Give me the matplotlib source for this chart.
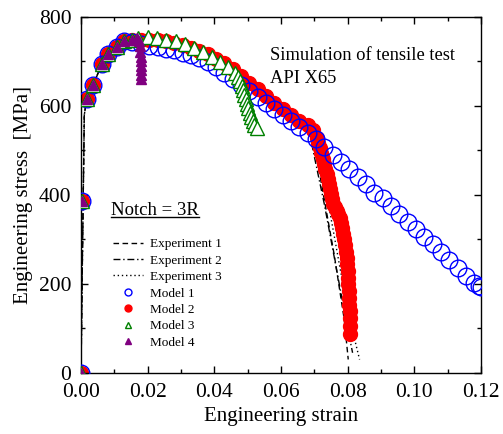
import numpy as np
import matplotlib
matplotlib.use('Agg')
import matplotlib.pyplot as plt
from matplotlib.lines import Line2D

plt.rcParams['font.family'] = ['Liberation Serif', 'DejaVu Serif']

# shared elastic / hardening part (all models start the same)
pre_strain = [0.0, 0.0003, 0.0017, 0.0037, 0.0062, 0.0082, 0.0107, 0.0130, 0.0154]
pre_stress = [0, 386, 615, 647, 694, 716, 733, 745, 748]

# Model 1 - blue open circles
m1_strain = pre_strain + [0.0180, 0.0205, 0.0230, 0.0255, 0.0280, 0.0305, 0.0330, 0.0355,
                          0.0380, 0.0405, 0.0430, 0.0455, 0.0480, 0.0505, 0.0530, 0.0555,
                          0.0580, 0.0605, 0.0630, 0.0655, 0.0680, 0.0705, 0.0730, 0.0755,
                          0.0780, 0.0805, 0.0830, 0.0855, 0.0880, 0.0905, 0.0930, 0.0955,
                          0.0980, 0.1005, 0.1030, 0.1055, 0.1080, 0.1105, 0.1130, 0.1155,
                          0.1180, 0.1195, 0.1200]
m1_stress = pre_stress[:-1] + [744, 739, 735, 732, 729, 725, 720, 714, 707,
                               699, 688, 675, 661, 648, 634, 621, 607,
                               593, 580, 566, 552, 538, 525, 508, 490,
                               474, 458, 441, 424, 405, 392, 376, 358,
                               340, 323, 306, 290, 272, 254, 236, 218,
                               203, 195, 193]

# Model 2 - red filled circles
m2_strain = pre_strain + [0.0180, 0.0205, 0.0230, 0.0255, 0.0280, 0.0305, 0.0330, 0.0355,
                          0.0380, 0.0405, 0.0430, 0.0455, 0.0480, 0.0505, 0.0530, 0.0555,
                          0.0580, 0.0605, 0.0630, 0.0655, 0.0680, 0.0695, 0.0708, 0.0712,
                          0.0716, 0.0720, 0.0725, 0.0729, 0.0733, 0.0737, 0.0741, 0.0744,
                          0.0747, 0.0750, 0.0754, 0.0757, 0.0762, 0.0767, 0.0772, 0.0777,
                          0.0780, 0.0783, 0.0786, 0.0789, 0.0792, 0.0795, 0.0797, 0.0799,
                          0.0800, 0.0801, 0.0802, 0.0803, 0.0804, 0.0805, 0.0806, 0.0806,
                          0.0807, 0.0807]
m2_stress = pre_stress + [749, 749, 748, 746, 742, 737, 731, 724,
                          716, 706, 696, 684, 668, 652, 637, 622,
                          607, 592, 579, 566, 556, 545, 528, 516,
                          505, 493, 480, 469, 458, 446, 435, 425,
                          414, 402, 390, 380, 372, 364, 357, 349,
                          337, 325, 313, 300, 287, 272, 258, 244,
                          229, 214, 200, 184, 168, 153, 138, 123,
                          105, 88]

# Model 3 - green open triangles
m3_strain = pre_strain + [0.0172, 0.0200, 0.0228, 0.0256, 0.0284, 0.0312, 0.0340, 0.0366,
                          0.0392, 0.0417, 0.0442, 0.0462, 0.0472, 0.0478, 0.0483, 0.0487,
                          0.0490, 0.0494, 0.0498, 0.0502, 0.0506, 0.0510, 0.0515, 0.0520,
                          0.0527]
m3_stress = pre_stress + [753, 754, 752, 749, 745, 739, 731, 721,
                          710, 699, 687, 675, 665, 655, 645, 635,
                          625, 615, 605, 595, 585, 575, 566, 558,
                          550]

# Model 4 - purple filled triangles
m4_strain = pre_strain + [0.0168, 0.0174, 0.0176, 0.0178, 0.0179, 0.0180, 0.0180,
                          0.0181, 0.0181, 0.0181]
m4_stress = pre_stress + [752, 745, 735, 722, 711, 700, 690, 680, 670, 660]

# experiments (black lines)
exp_pre_strain = [0.0, 0.0005, 0.0010, 0.0017, 0.0037, 0.0062, 0.0107, 0.0154, 0.0200,
                  0.0300, 0.0400, 0.0500, 0.0600]
exp_pre_stress = [0, 300, 580, 615, 647, 694, 733, 747, 749, 738, 708, 655, 595]
e1_strain = exp_pre_strain + [0.0690, 0.0700, 0.0730, 0.0760, 0.0790, 0.0802]
e1_stress = exp_pre_stress + [540, 515, 390, 265, 120, 30]
e2_strain = exp_pre_strain + [0.0688, 0.0695, 0.0730, 0.0760, 0.0790, 0.0815]
e2_stress = exp_pre_stress + [540, 505, 380, 260, 140, 45]
e3_strain = exp_pre_strain + [0.0700, 0.0710, 0.0745, 0.0775, 0.0805, 0.0836]
e3_stress = exp_pre_stress + [535, 505, 370, 245, 125, 30]

fig = plt.figure(figsize=(5.03, 4.34), dpi=100)
ax = fig.add_axes([0.161, 0.141, 0.795, 0.820])

ax.plot(e1_strain, e1_stress, color='black', lw=1.0, ls=(0, (4, 2.5)), zorder=1)
ax.plot(e2_strain, e2_stress, color='black', lw=1.0, ls=(0, (5, 2, 1, 2)), zorder=1)
ax.plot(e3_strain, e3_stress, color='black', lw=1.0, ls=(0, (1, 2)), zorder=1)

ax.plot(m2_strain, m2_stress, 'o', ms=10, mfc='red', mec='red', mew=1, zorder=2)
ax.plot(m1_strain, m1_stress, 'o', ms=12, mfc='none', mec='blue', mew=1, zorder=3)
ax.plot(m3_strain, m3_stress, '^', ms=9.5, mfc='white', mec='green', mew=1, zorder=4)
ax.plot(m4_strain, m4_stress, '^', ms=7, mfc='purple', mec='purple', mew=1, zorder=5)

ax.set_xlim(0, 0.12)
ax.set_ylim(0, 800)
ax.set_xticks(np.arange(0, 0.121, 0.02))
ax.set_xticks(np.arange(0, 0.121, 0.01), minor=True)
ax.set_yticks(np.arange(0, 801, 200))
ax.set_yticks(np.arange(0, 801, 100), minor=True)
ax.set_xticklabels(['0.00', '0.02', '0.04', '0.06', '0.08', '0.10', '0.12'])
ax.tick_params(which='both', direction='in', top=True, right=True, labelsize=15.5, width=1)
ax.tick_params(which='major', length=5, pad=7)
ax.tick_params(which='minor', length=3)
for s in ax.spines.values():
    s.set_linewidth(1)

ax.set_xlabel('Engineering strain', fontsize=15, labelpad=4)
ax.set_ylabel('Engineering stress  [MPa]', fontsize=15, labelpad=4)

ax.text(0.4725, 0.893, 'Simulation of tensile test', transform=ax.transAxes,
        fontsize=13.3, va='center', ha='left')
ax.text(0.4725, 0.828, 'API X65', transform=ax.transAxes,
        fontsize=13.3, va='center', ha='left')
notch = ax.text(0.075, 0.457, 'Notch = 3R', transform=ax.transAxes,
                fontsize=13.5, va='center', ha='left')

handles = [
    Line2D([], [], color='black', lw=1.0, ls=(0, (4, 2.5))),
    Line2D([], [], color='black', lw=1.0, ls=(0, (5, 2, 1, 2))),
    Line2D([], [], color='black', lw=1.0, ls=(0, (1, 2))),
    Line2D([], [], ls='none', marker='o', ms=5, mfc='none', mec='blue'),
    Line2D([], [], ls='none', marker='o', ms=5, mfc='red', mec='red'),
    Line2D([], [], ls='none', marker='^', ms=5, mfc='white', mec='green'),
    Line2D([], [], ls='none', marker='^', ms=5, mfc='purple', mec='purple'),
]
labels = ['Experiment 1', 'Experiment 2', 'Experiment 3',
          'Model 1', 'Model 2', 'Model 3', 'Model 4']
ax.legend(handles, labels, loc='upper left', bbox_to_anchor=(0.08, 0.379),
          frameon=False, fontsize=9.5, handlelength=2.3, handletextpad=0.5,
          labelspacing=0.32, borderpad=0, borderaxespad=0)

# underline for the notch label
fig.canvas.draw()
bb = notch.get_window_extent().transformed(fig.transFigure.inverted())
fig.add_artist(Line2D([bb.x0, bb.x1], [bb.y0 + 0.004, bb.y0 + 0.004],
                      transform=fig.transFigure, color='black', lw=1))

fig.savefig('out.png', dpi=100)
